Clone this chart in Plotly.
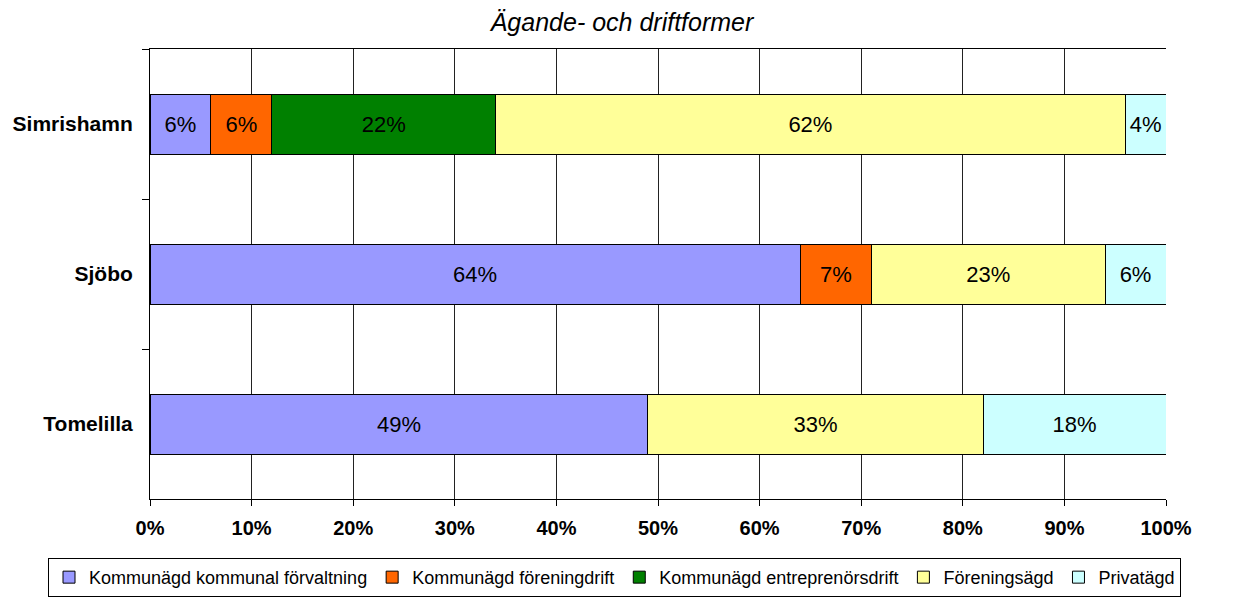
import plotly.graph_objects as go

categories = ["Simrishamn", "Sjöbo", "Tomelilla"]
series_names = [
    "Kommunägd kommunal förvaltning",
    "Kommunägd föreningdrift",
    "Kommunägd entreprenörsdrift",
    "Föreningsägd",
    "Privatägd",
]
kommunal_forvaltning = [0.06, 0.64, 0.49]
foreningdrift = [0.06, 0.07, None]
entreprenorsdrift = [0.22, None, None]
foreningsagd = [0.62, 0.23, 0.33]
privatagd = [0.04, 0.06, 0.18]
series_values = [kommunal_forvaltning, foreningdrift, entreprenorsdrift, foreningsagd, privatagd]
colors = ["#9999FF", "#FF6600", "#008000", "#FFFF99", "#CCFFFF"]
x_ticks = [0, 0.1, 0.2, 0.3, 0.4, 0.5, 0.6, 0.7, 0.8, 0.9, 1.0]

FONT = "Liberation Sans, Arial, sans-serif"

fig = go.Figure()
for name, vals, col in zip(series_names, series_values, colors):
    fig.add_trace(go.Bar(
        y=categories, x=vals, name=name, orientation="h",
        marker=dict(color=col, line=dict(color="#000000", width=1)),
        texttemplate="%{x:.0%}", textposition="inside", insidetextanchor="middle",
        textfont=dict(family=FONT, size=22, color="#000000"),
        constraintext="none",
    ))

fig.update_layout(
    barmode="stack", bargap=0.6,
    width=1246, height=605,
    margin=dict(l=142, r=88, t=41, b=114, autoexpand=False),
    paper_bgcolor="white", plot_bgcolor="white",
    font=dict(family=FONT, color="#000000"),
    title=dict(text="<i>Ägande- och driftformer</i>", x=(622 - 8) / 1246, xanchor="center",
               y=1 - (22 - 8) / 605, yanchor="middle",
               font=dict(family=FONT, size=25, color="#000000")),
    xaxis=dict(range=[0, 1], tickvals=x_ticks, tickformat=".0%",
               showgrid=True, gridcolor="#222222", gridwidth=1,
               showline=True, linecolor="#000000", linewidth=1, mirror=True,
               ticks="outside", ticklen=6, tickcolor="#000000", ticklabelstandoff=5,
               tickfont=dict(family=FONT, size=20, color="#000000", weight="bold"),
               zeroline=False, fixedrange=True),
    yaxis=dict(categoryorder="array", categoryarray=categories, autorange="reversed",
               showline=True, linecolor="#000000", linewidth=1,
               ticks="outside", ticklen=7, tickcolor="#000000", tickson="boundaries",
               showgrid=False, ticklabelstandoff=12,
               tickfont=dict(family=FONT, size=21, color="#000000", weight="bold"),
               fixedrange=True),
    legend=dict(orientation="h", x=(48 - 8 - 142) / 1016, xanchor="left",
                y=-0.131, yanchor="top",
                bordercolor="#000000", borderwidth=1, bgcolor="white",
                font=dict(family=FONT, size=18, color="#000000"),
                traceorder="normal", itemwidth=30),
    showlegend=True,
)

fig.write_html("out.html")
